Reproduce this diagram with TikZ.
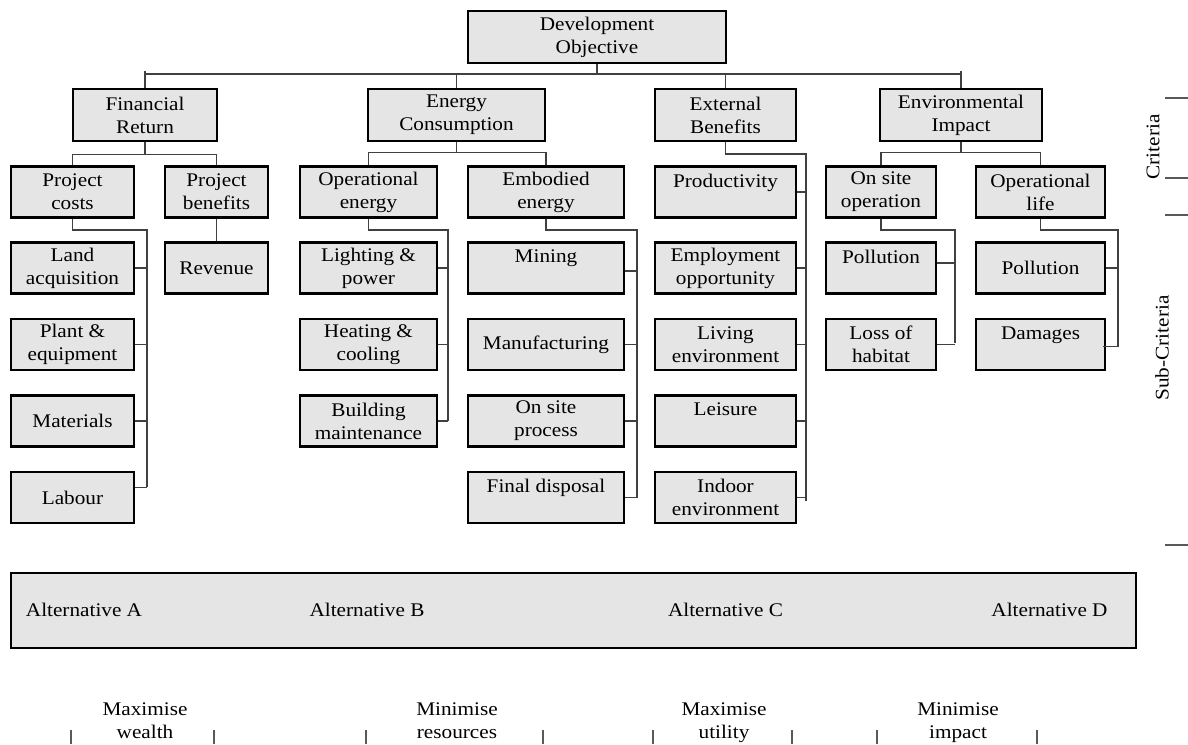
\documentclass[tikz,border=0pt]{standalone}
\usepackage{fontspec}
\setmainfont{Liberation Serif}[FakeStretch=1.1]
\begin{document}
\begin{tikzpicture}[x=1pt,y=-1pt,
  box/.style={draw=black, line width=2.4pt, fill=gray!20, inner sep=0pt, align=center,
    font=\fontsize{19.3}{23}\selectfont, minimum height=51pt},
  conn/.style={draw=black!75, line width=1.1pt},
  tickline/.style={draw=black!65, line width=1.1pt},
  lbl/.style={inner sep=0pt, align=center, font=\fontsize{19.3}{23}\selectfont}]
\useasboundingbox (0,0) rectangle (1188,744);

% top
\node[box, minimum width=258pt, minimum height=52pt] (dev) at (597,37) {Development\\Objective};
% criteria
\node[box, minimum width=144pt, minimum height=52pt] (fr) at (145,115) {Financial\\Return};
\node[box, minimum width=177pt, minimum height=52pt] (ec) at (456.5,115) {Energy\\Consumption};
\node[box, minimum width=141pt, minimum height=52pt] (eb) at (725.5,115) {External\\Benefits};
\node[box, minimum width=162pt, minimum height=52pt] (ei) at (961,115) {Environmental\\Impact};

% row 1
\node[box, minimum width=123pt] (pc) at (72.5,192) {Project\\costs};
\node[box, minimum width=103pt] (pb) at (216.5,192) {Project\\benefits};
\node[box, minimum width=137pt] (oe) at (368.5,192) {Operational\\energy};
\node[box, minimum width=156pt] (em) at (546,192) {Embodied\\energy};
\node[box, minimum width=141pt] (prod) at (725.5,192) {Productivity\\\phantom{X}};
\node[box, minimum width=110pt] (oso) at (881,192) {On site\\operation};
\node[box, minimum width=129pt] (ol) at (1040.5,192) {Operational\\life};

% row 2
\node[box, minimum width=123pt] (land) at (72.5,268) {Land\\acquisition};
\node[box, minimum width=103pt] (rev) at (216.5,268) {Revenue};
\node[box, minimum width=137pt] (light) at (368.5,268) {Lighting \&\\power};
\node[box, minimum width=156pt] (mine) at (546,268) {Mining\\\phantom{X}};
\node[box, minimum width=141pt] (emp) at (725.5,268) {Employment\\opportunity};
\node[box, minimum width=110pt] (pol1) at (881,268) {Pollution\\\phantom{X}};
\node[box, minimum width=129pt] (pol2) at (1040.5,268) {Pollution};

% row 3
\node[box, minimum width=123pt] (plant) at (72.5,344.5) {Plant \&\\equipment};
\node[box, minimum width=137pt] (heat) at (368.5,344.5) {Heating \&\\cooling};
\node[box, minimum width=156pt] (manu) at (546,344.5) {Manufacturing};
\node[box, minimum width=141pt] (liv) at (725.5,344.5) {Living\\environment};
\node[box, minimum width=110pt] (loss) at (881,344.5) {Loss of\\habitat};
\node[box, minimum width=129pt] (dam) at (1040.5,344.5) {Damages\\\phantom{X}};

% row 4
\node[box, minimum width=123pt] (mat) at (72.5,421) {Materials};
\node[box, minimum width=137pt] (build) at (368.5,421) {Building\\maintenance};
\node[box, minimum width=156pt] (osp) at (546,421) {On site\\process};
\node[box, minimum width=141pt] (leis) at (725.5,421) {Leisure\\\phantom{X}};

% row 5
\node[box, minimum width=123pt] (lab) at (72.5,497.5) {Labour};
\node[box, minimum width=156pt] (fin) at (546,497.5) {Final disposal\\\phantom{X}};
\node[box, minimum width=141pt] (ind) at (725.5,497.5) {Indoor\\environment};

% ---- connectors ----
\coordinate (bus) at (0,74);
\draw[conn] (dev.south) -- (dev.south |- bus);
\draw[conn] (fr.north |- bus) -- (ei.north |- bus);
\draw[conn] ([yshift=3pt]fr.north |- bus) -- (fr.north);
\draw[conn] (ec.north |- bus) -- (ec.north);
\draw[conn] (eb.north |- bus) -- (eb.north);
\draw[conn] ([yshift=3pt]ei.north |- bus) -- (ei.north);

% criteria to first sub level
\draw[conn] (fr.south) -- ++(0,12);
\draw[conn] (pc.north) |- ([yshift=-12pt]fr.south) -| (pb.north);
\draw[conn] (ec.south) -- ++(0,10);
\draw[conn] (oe.north) |- ([yshift=-10pt]ec.south) -| (em.north);
\draw[conn] (ei.south) -- ++(0,10);
\draw[conn] (oso.north) |- ([yshift=-10pt]ei.south) -| (ol.north);

% external benefits
\coordinate (ebv) at (806,154);
\coordinate (ebend) at (806,501);
\draw[conn] (eb.south) |- (ebv) -- (ebend);
\foreach \n in {prod,emp,liv,leis,ind} \draw[conn] (\n.east) -- (\n.east -| ebv);

% project costs
\coordinate (pcv) at (147,230);
\coordinate (pcend) at (147,487);
\draw[conn] (pc.south) |- (pcv) -- (pcend);
\foreach \n in {land,plant,mat} \draw[conn] (\n.east) -- (\n.east -| pcv);
\draw[conn] ([yshift=10pt]lab.east) -- ([yshift=10pt]lab.east -| pcv);

% project benefits
\draw[conn] (pb.south) -- (rev.north);

% operational energy
\coordinate (oev) at (448,230);
\coordinate (oeend) at (448,421);
\draw[conn] (oe.south) |- (oev) -- (oeend);
\foreach \n in {light,heat,build} \draw[conn] (\n.east) -- (\n.east -| oev);

% embodied energy
\coordinate (emv) at (637,230);
\coordinate (emend) at (637,497.5);
\draw[conn] (em.south) |- (emv) -- (emend);
\draw[conn] ([yshift=-3pt]mine.east) -- ([yshift=-3pt]mine.east -| emv);
\foreach \n in {manu,osp,fin} \draw[conn] (\n.east) -- (\n.east -| emv);

% on site operation
\coordinate (osov) at (955,230);
\coordinate (osoend) at (955,343);
\draw[conn] (oso.south) |- (osov) -- (osoend);
\draw[conn] ([yshift=5pt]pol1.east) -- ([yshift=5pt]pol1.east -| osov);
\draw[conn] (loss.east) -- (loss.east -| osov);

% operational life
\coordinate (olv) at (1118,230);
\coordinate (olend) at (1118,347);
\draw[conn] (ol.south) |- (olv) -- (olend);
\draw[conn] (pol2.east) -- (pol2.east -| olv);
\draw[conn] ([yshift=-2pt,xshift=-3pt]dam.east) -- ([yshift=-2pt]dam.east -| olv);

% ---- right side level marks ----
\draw[tickline] (1165,98) -- (1188,98);
\draw[tickline] (1165,178) -- (1188,178);
\draw[tickline] (1165,215) -- (1188,215);
\draw[tickline] (1165,545) -- (1188,545);
\node[lbl, rotate=90] (crit) at (1153,147) {Criteria};
\node[lbl, rotate=90] (subcrit) at (1162,348) {Sub-Criteria};

% ---- alternatives ----
\node[draw=black, line width=2.4pt, fill=gray!20, minimum width=1125pt, minimum height=75pt, inner sep=0pt] (alt) at (573.5,610.5) {};
\node[lbl] (altA) at (84,610) {Alternative A};
\node[lbl] (altB) at (367,610) {Alternative B};
\node[lbl] (altC) at (725.5,610) {Alternative C};
\node[lbl] (altD) at (1049.5,610) {Alternative D};

% ---- goals ----
\node[lbl, anchor=north] (g1) at (145,703) {Maximise\\wealth};
\node[lbl, anchor=north] (g2) at (457,703) {Minimise\\resources};
\node[lbl, anchor=north] (g3) at (724,703) {Maximise\\utility};
\node[lbl, anchor=north] (g4) at (958,703) {Minimise\\impact};
\foreach \x in {71,214,366,543,653,792,877,1037} \draw[tickline] (\x,730) -- (\x,744);
\end{tikzpicture}
\end{document}
